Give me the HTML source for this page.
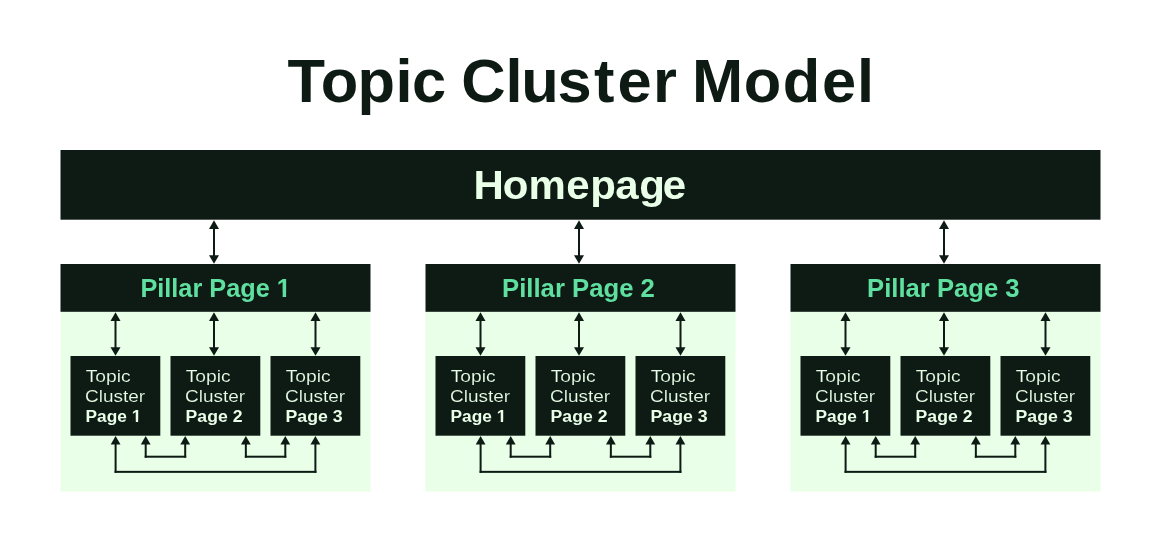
<!DOCTYPE html>
<html><head><meta charset="utf-8"><title>Topic Cluster Model</title>
<style>
html,body{margin:0;padding:0;background:#fff;}
body{width:1161px;height:552px;overflow:hidden;font-family:"Liberation Sans",sans-serif;}
svg{display:block;will-change:transform;font-family:"Liberation Sans",sans-serif;}
</style></head><body>
<svg width="1161" height="552" viewBox="0 0 1161 552">
<rect width="1161" height="552" fill="#fff"/>
<rect x="60.5" y="150" width="1040" height="69.7" fill="#0e1b14"/>
<rect x="60.5" y="311" width="310" height="180.6" fill="#e9ffe8"/>
<rect x="60.5" y="264" width="310" height="47.8" fill="#0e1b14"/>
<rect x="70.5" y="356" width="89.8" height="79.7" fill="#0e1b14"/>
<rect x="170.5" y="356" width="89.8" height="79.7" fill="#0e1b14"/>
<rect x="270.5" y="356" width="89.8" height="79.7" fill="#0e1b14"/>
<rect x="425.5" y="311" width="310" height="180.6" fill="#e9ffe8"/>
<rect x="425.5" y="264" width="310" height="47.8" fill="#0e1b14"/>
<rect x="435.5" y="356" width="89.8" height="79.7" fill="#0e1b14"/>
<rect x="535.5" y="356" width="89.8" height="79.7" fill="#0e1b14"/>
<rect x="635.5" y="356" width="89.8" height="79.7" fill="#0e1b14"/>
<rect x="790.5" y="311" width="310" height="180.6" fill="#e9ffe8"/>
<rect x="790.5" y="264" width="310" height="47.8" fill="#0e1b14"/>
<rect x="800.5" y="356" width="89.8" height="79.7" fill="#0e1b14"/>
<rect x="900.5" y="356" width="89.8" height="79.7" fill="#0e1b14"/>
<rect x="1000.5" y="356" width="89.8" height="79.7" fill="#0e1b14"/>
<g fill="#0e1b14">
<path d="M214.00 220.30L219.00 228.90H209.00Z"/><path d="M214.00 263.80L219.00 255.20H209.00Z"/><rect x="213.00" y="224.30" width="2" height="35.50"/>
<path d="M115.50 312.30L120.50 320.90H110.50Z"/><path d="M115.50 355.80L120.50 347.20H110.50Z"/><rect x="114.50" y="316.30" width="2" height="35.50"/>
<path d="M214.00 312.30L219.00 320.90H209.00Z"/><path d="M214.00 355.80L219.00 347.20H209.00Z"/><rect x="213.00" y="316.30" width="2" height="35.50"/>
<path d="M315.50 312.30L320.50 320.90H310.50Z"/><path d="M315.50 355.80L320.50 347.20H310.50Z"/><rect x="314.50" y="316.30" width="2" height="35.50"/>
<path d="M115.60 436.10L120.50 444.60H110.70Z"/>
<path d="M145.70 436.10L150.60 444.60H140.80Z"/>
<path d="M185.20 436.10L190.10 444.60H180.30Z"/>
<path d="M245.85 436.10L250.75 444.60H240.95Z"/>
<path d="M285.30 436.10L290.20 444.60H280.40Z"/>
<path d="M315.40 436.10L320.30 444.60H310.50Z"/>
<rect x="144.70" y="440.00" width="2" height="17.70"/>
<rect x="184.20" y="440.00" width="2" height="17.70"/>
<rect x="144.70" y="455.70" width="41.50" height="2"/>
<rect x="244.85" y="440.00" width="2" height="17.70"/>
<rect x="284.30" y="440.00" width="2" height="17.70"/>
<rect x="244.85" y="455.70" width="41.45" height="2"/>
<rect x="114.60" y="440.00" width="2" height="32.85"/>
<rect x="314.40" y="440.00" width="2" height="32.85"/>
<rect x="114.60" y="470.85" width="201.80" height="2"/>
<path d="M579.00 220.30L584.00 228.90H574.00Z"/><path d="M579.00 263.80L584.00 255.20H574.00Z"/><rect x="578.00" y="224.30" width="2" height="35.50"/>
<path d="M480.50 312.30L485.50 320.90H475.50Z"/><path d="M480.50 355.80L485.50 347.20H475.50Z"/><rect x="479.50" y="316.30" width="2" height="35.50"/>
<path d="M579.00 312.30L584.00 320.90H574.00Z"/><path d="M579.00 355.80L584.00 347.20H574.00Z"/><rect x="578.00" y="316.30" width="2" height="35.50"/>
<path d="M680.50 312.30L685.50 320.90H675.50Z"/><path d="M680.50 355.80L685.50 347.20H675.50Z"/><rect x="679.50" y="316.30" width="2" height="35.50"/>
<path d="M480.60 436.10L485.50 444.60H475.70Z"/>
<path d="M510.70 436.10L515.60 444.60H505.80Z"/>
<path d="M550.20 436.10L555.10 444.60H545.30Z"/>
<path d="M610.85 436.10L615.75 444.60H605.95Z"/>
<path d="M650.30 436.10L655.20 444.60H645.40Z"/>
<path d="M680.40 436.10L685.30 444.60H675.50Z"/>
<rect x="509.70" y="440.00" width="2" height="17.70"/>
<rect x="549.20" y="440.00" width="2" height="17.70"/>
<rect x="509.70" y="455.70" width="41.50" height="2"/>
<rect x="609.85" y="440.00" width="2" height="17.70"/>
<rect x="649.30" y="440.00" width="2" height="17.70"/>
<rect x="609.85" y="455.70" width="41.45" height="2"/>
<rect x="479.60" y="440.00" width="2" height="32.85"/>
<rect x="679.40" y="440.00" width="2" height="32.85"/>
<rect x="479.60" y="470.85" width="201.80" height="2"/>
<path d="M944.00 220.30L949.00 228.90H939.00Z"/><path d="M944.00 263.80L949.00 255.20H939.00Z"/><rect x="943.00" y="224.30" width="2" height="35.50"/>
<path d="M845.50 312.30L850.50 320.90H840.50Z"/><path d="M845.50 355.80L850.50 347.20H840.50Z"/><rect x="844.50" y="316.30" width="2" height="35.50"/>
<path d="M944.00 312.30L949.00 320.90H939.00Z"/><path d="M944.00 355.80L949.00 347.20H939.00Z"/><rect x="943.00" y="316.30" width="2" height="35.50"/>
<path d="M1045.50 312.30L1050.50 320.90H1040.50Z"/><path d="M1045.50 355.80L1050.50 347.20H1040.50Z"/><rect x="1044.50" y="316.30" width="2" height="35.50"/>
<path d="M845.60 436.10L850.50 444.60H840.70Z"/>
<path d="M875.70 436.10L880.60 444.60H870.80Z"/>
<path d="M915.20 436.10L920.10 444.60H910.30Z"/>
<path d="M975.85 436.10L980.75 444.60H970.95Z"/>
<path d="M1015.30 436.10L1020.20 444.60H1010.40Z"/>
<path d="M1045.40 436.10L1050.30 444.60H1040.50Z"/>
<rect x="874.70" y="440.00" width="2" height="17.70"/>
<rect x="914.20" y="440.00" width="2" height="17.70"/>
<rect x="874.70" y="455.70" width="41.50" height="2"/>
<rect x="974.85" y="440.00" width="2" height="17.70"/>
<rect x="1014.30" y="440.00" width="2" height="17.70"/>
<rect x="974.85" y="455.70" width="41.45" height="2"/>
<rect x="844.60" y="440.00" width="2" height="32.85"/>
<rect x="1044.40" y="440.00" width="2" height="32.85"/>
<rect x="844.60" y="470.85" width="201.80" height="2"/>
</g>
<text id="t1" x="287.39 320.72 357.40 395.57 412.02" y="102" font-size="61.4" font-weight="bold" fill="#0e1b14">Topic</text>
<text id="t2" x="461.19 505.58 521.34 557.38 593.97 617.56 652.98" y="102" font-size="61.4" font-weight="bold" fill="#0e1b14">Cluster</text>
<text id="t3" x="691.93 743.65 782.65 822.07 856.89" y="102" font-size="61.4" font-weight="bold" fill="#0e1b14">Model</text>
<text id="home" transform="scale(1.04 1)" x="455.32 483.45 508.20 544.40 567.44 591.65 614.63 637.30" y="199" font-size="40.4" font-weight="bold" fill="#e9ffe8">Homepage</text>
<text id="c00a" transform="translate(85.73 382.15) scale(1.1070 1.0000)" font-size="17.35" font-weight="normal" fill="#e9ffe8" stroke="#0e1b14" stroke-width="0.12">Topic</text>
<text id="c00b" transform="translate(85.06 402.00) scale(1.0943 1.0000)" font-size="17.35" font-weight="normal" fill="#e9ffe8" stroke="#0e1b14" stroke-width="0.12">Cluster</text>
<text id="c00c" transform="translate(85.57 422.40) scale(1.0183 1.0000)" font-size="17.0" font-weight="bold" fill="#e9ffe8">Page 1</text>
<text id="c01a" transform="translate(185.73 382.15) scale(1.1070 1.0000)" font-size="17.35" font-weight="normal" fill="#e9ffe8" stroke="#0e1b14" stroke-width="0.12">Topic</text>
<text id="c01b" transform="translate(185.06 402.00) scale(1.0943 1.0000)" font-size="17.35" font-weight="normal" fill="#e9ffe8" stroke="#0e1b14" stroke-width="0.12">Cluster</text>
<text id="c01c" transform="translate(185.59 422.40) scale(1.0382 1.0000)" font-size="17.0" font-weight="bold" fill="#e9ffe8">Page 2</text>
<text id="c02a" transform="translate(285.73 382.15) scale(1.1070 1.0000)" font-size="17.35" font-weight="normal" fill="#e9ffe8" stroke="#0e1b14" stroke-width="0.12">Topic</text>
<text id="c02b" transform="translate(285.06 402.00) scale(1.0943 1.0000)" font-size="17.35" font-weight="normal" fill="#e9ffe8" stroke="#0e1b14" stroke-width="0.12">Cluster</text>
<text id="c02c" transform="translate(285.52 422.40) scale(1.0421 1.0000)" font-size="17.0" font-weight="bold" fill="#e9ffe8">Page 3</text>
<text id="p0" transform="translate(140.41 296.80) scale(1.0038 1.0000)" font-size="25.2" font-weight="bold" fill="#5fe0a0">Pillar Page 1</text>
<text id="c10a" transform="translate(450.73 382.15) scale(1.1070 1.0000)" font-size="17.35" font-weight="normal" fill="#e9ffe8" stroke="#0e1b14" stroke-width="0.12">Topic</text>
<text id="c10b" transform="translate(450.06 402.00) scale(1.0943 1.0000)" font-size="17.35" font-weight="normal" fill="#e9ffe8" stroke="#0e1b14" stroke-width="0.12">Cluster</text>
<text id="c10c" transform="translate(450.57 422.40) scale(1.0183 1.0000)" font-size="17.0" font-weight="bold" fill="#e9ffe8">Page 1</text>
<text id="c11a" transform="translate(550.73 382.15) scale(1.1070 1.0000)" font-size="17.35" font-weight="normal" fill="#e9ffe8" stroke="#0e1b14" stroke-width="0.12">Topic</text>
<text id="c11b" transform="translate(550.06 402.00) scale(1.0943 1.0000)" font-size="17.35" font-weight="normal" fill="#e9ffe8" stroke="#0e1b14" stroke-width="0.12">Cluster</text>
<text id="c11c" transform="translate(550.59 422.40) scale(1.0382 1.0000)" font-size="17.0" font-weight="bold" fill="#e9ffe8">Page 2</text>
<text id="c12a" transform="translate(650.73 382.15) scale(1.1070 1.0000)" font-size="17.35" font-weight="normal" fill="#e9ffe8" stroke="#0e1b14" stroke-width="0.12">Topic</text>
<text id="c12b" transform="translate(650.06 402.00) scale(1.0943 1.0000)" font-size="17.35" font-weight="normal" fill="#e9ffe8" stroke="#0e1b14" stroke-width="0.12">Cluster</text>
<text id="c12c" transform="translate(650.52 422.40) scale(1.0421 1.0000)" font-size="17.0" font-weight="bold" fill="#e9ffe8">Page 3</text>
<text id="p1" transform="translate(502.09 296.80) scale(1.0194 1.0000)" font-size="25.2" font-weight="bold" fill="#5fe0a0">Pillar Page 2</text>
<text id="c20a" transform="translate(815.73 382.15) scale(1.1070 1.0000)" font-size="17.35" font-weight="normal" fill="#e9ffe8" stroke="#0e1b14" stroke-width="0.12">Topic</text>
<text id="c20b" transform="translate(815.06 402.00) scale(1.0943 1.0000)" font-size="17.35" font-weight="normal" fill="#e9ffe8" stroke="#0e1b14" stroke-width="0.12">Cluster</text>
<text id="c20c" transform="translate(815.57 422.40) scale(1.0183 1.0000)" font-size="17.0" font-weight="bold" fill="#e9ffe8">Page 1</text>
<text id="c21a" transform="translate(915.73 382.15) scale(1.1070 1.0000)" font-size="17.35" font-weight="normal" fill="#e9ffe8" stroke="#0e1b14" stroke-width="0.12">Topic</text>
<text id="c21b" transform="translate(915.06 402.00) scale(1.0943 1.0000)" font-size="17.35" font-weight="normal" fill="#e9ffe8" stroke="#0e1b14" stroke-width="0.12">Cluster</text>
<text id="c21c" transform="translate(915.59 422.40) scale(1.0382 1.0000)" font-size="17.0" font-weight="bold" fill="#e9ffe8">Page 2</text>
<text id="c22a" transform="translate(1015.73 382.15) scale(1.1070 1.0000)" font-size="17.35" font-weight="normal" fill="#e9ffe8" stroke="#0e1b14" stroke-width="0.12">Topic</text>
<text id="c22b" transform="translate(1015.06 402.00) scale(1.0943 1.0000)" font-size="17.35" font-weight="normal" fill="#e9ffe8" stroke="#0e1b14" stroke-width="0.12">Cluster</text>
<text id="c22c" transform="translate(1015.52 422.40) scale(1.0421 1.0000)" font-size="17.0" font-weight="bold" fill="#e9ffe8">Page 3</text>
<text id="p2" transform="translate(867.08 296.80) scale(1.0176 1.0000)" font-size="25.2" font-weight="bold" fill="#5fe0a0">Pillar Page 3</text>
<g fill="#0e1b14">
<g transform="translate(85.57 422.40) scale(1.0183 1.0000)"><rect x="45.79" y="-2.53" width="3.50" height="3.33"/><rect x="51.62" y="-2.53" width="3.28" height="3.33"/></g>
<g transform="translate(140.41 296.80) scale(1.0038 1.0000)"><rect x="136.79" y="-3.37" width="4.89" height="4.17"/><rect x="145.14" y="-3.37" width="4.57" height="4.17"/></g>
<g transform="translate(450.57 422.40) scale(1.0183 1.0000)"><rect x="45.79" y="-2.53" width="3.50" height="3.33"/><rect x="51.62" y="-2.53" width="3.28" height="3.33"/></g>
<g transform="translate(815.57 422.40) scale(1.0183 1.0000)"><rect x="45.79" y="-2.53" width="3.50" height="3.33"/><rect x="51.62" y="-2.53" width="3.28" height="3.33"/></g>
</g>
</svg>
</body></html>
